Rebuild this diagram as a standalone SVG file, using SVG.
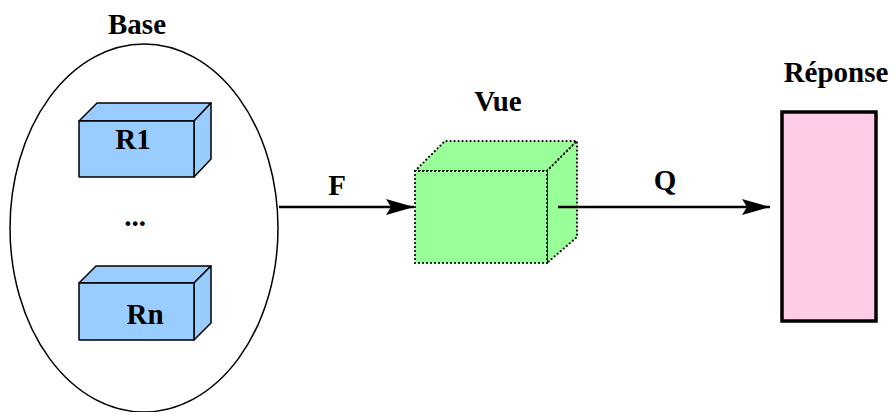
<svg xmlns="http://www.w3.org/2000/svg" width="896" height="412" viewBox="0 0 896 412">
<style>
.lbl{font-family:"Liberation Serif","Times New Roman",serif;font-weight:bold;font-size:29px;fill:#000;text-anchor:middle}
.rel{fill:#99ccff;stroke:#000;stroke-width:1.5;stroke-linejoin:round}
.vue{fill:#99ff99;stroke:#000;stroke-width:2.2;stroke-dasharray:0 4;stroke-linecap:round}
.edge{stroke:#000;stroke-width:2.5;fill:none}
</style>
<defs>
<marker id="ah" markerWidth="30" markerHeight="16" refX="28" refY="8" orient="auto" markerUnits="userSpaceOnUse">
<path d="M0,0 L28,8 L0,16 L5,8 Z" fill="#000"/>
</marker>
</defs>
<rect width="896" height="412" fill="#fff"/>
<g id="base">
<ellipse cx="144" cy="228" rx="134" ry="184" fill="none" stroke="#000" stroke-width="1.5"/>
<text class="lbl" x="137" y="34">Base</text>
</g>
<g id="r1">
<polygon class="rel" points="79,121 97,103 211,103 194,121"/>
<polygon class="rel" points="194,121 211,103 211,159 194,177"/>
<rect class="rel" x="79" y="121" width="115" height="56"/>
<text class="lbl" x="133" y="149">R1</text>
</g>
<g id="dots">
<text class="lbl" x="135" y="226">...</text>
</g>
<g id="rn">
<polygon class="rel" points="79,283 96,266 211,266 194,283"/>
<polygon class="rel" points="194,283 211,266 211,323 194,340"/>
<rect class="rel" x="79" y="283" width="115" height="57"/>
<text class="lbl" x="145" y="324">Rn</text>
</g>
<g id="vue">
<polygon class="vue" points="415,171 445,141 577,141 547,171"/>
<polygon class="vue" points="547,171 577,141 577,237 547,263"/>
<rect class="vue" x="415" y="171" width="132" height="92"/>
<text class="lbl" x="498" y="111">Vue</text>
</g>
<g id="reponse">
<rect x="782" y="112" width="94" height="209" fill="#ffcce8" stroke="#000" stroke-width="3.5"/>
<text class="lbl" x="836" y="82">Réponse</text>
</g>
<g id="connectors">
<line class="edge" x1="279" y1="207" x2="414" y2="207" marker-end="url(#ah)"/>
<text class="lbl" x="337" y="195">F</text>
<line class="edge" x1="558" y1="207" x2="770" y2="207" marker-end="url(#ah)"/>
<text class="lbl" x="665" y="190">Q</text>
</g>
</svg>
